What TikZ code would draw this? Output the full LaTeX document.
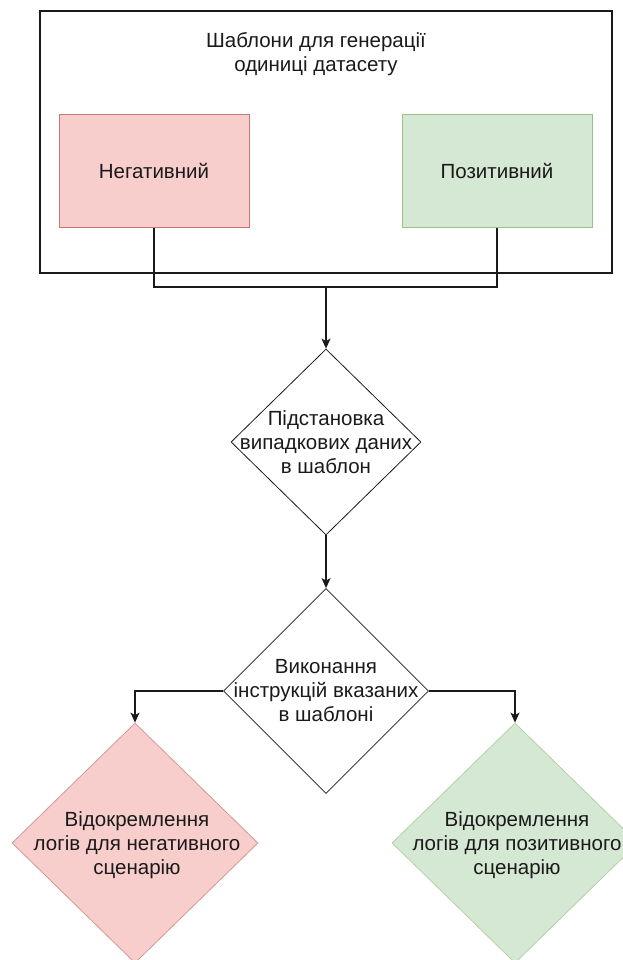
\documentclass[tikz,border=0pt]{standalone}
\usepackage{fontspec}
\setmainfont{Liberation Sans}
\usetikzlibrary{shapes.geometric,arrows.meta}
\definecolor{negfill}{HTML}{F8CECC}
\definecolor{negline}{HTML}{B85450}
\definecolor{posfill}{HTML}{D5E8D4}
\definecolor{posline}{HTML}{82B366}
\definecolor{ink}{HTML}{1A1A1A}
\begin{document}
\begin{tikzpicture}[x=1pt,y=-1pt,
  lbl/.style={font=\fontsize{20.5}{24}\selectfont, text=ink, align=center, inner sep=0},
  conn/.style={draw=ink, line width=1.3pt},
  arr/.style={conn, -{Stealth[length=10pt,width=9pt,inset=2.5pt]}},
  box/.style={rectangle, line width=0.8pt, minimum width=190pt, minimum height=113pt, inner sep=0},
  dia/.style={diamond, draw=ink, line width=0.8pt, inner sep=0}]
\clip (0,0) rectangle (623,960);
\fill[white] (0,0) rectangle (623,960);
\node[rectangle, draw=ink, line width=1.2pt, minimum width=572pt, minimum height=262pt, inner sep=0] (outer) at (326,142) {};
\node[lbl] (title) at (316,54) {Шаблони для генерації\\одиниці датасету};
\node[box, fill=negfill, draw=negline!80] (neg) at (154,171) {};
\node[lbl] (negt) at (neg.center) {Негативний};
\node[box, fill=posfill, draw=posline!80] (pos) at (497,171) {};
\node[lbl] (post) at (pos.center) {Позитивний};
\coordinate (j) at (326,287);
\draw[conn] (neg.south) |- (j) -| (pos.south);
\node[dia, fill=white, minimum width=190pt, minimum height=186pt] (d1) at (326,442) {};
\node[lbl] (d1t) at (d1.center) {Підстановка\\випадкових даних\\в шаблон};
\draw[arr] (j) -- (d1.north);
\node[dia, fill=white, minimum width=205pt, minimum height=205pt] (d2) at (326,691) {};
\node[lbl] (d2t) at (d2.center) {Виконання\\інструкцій вказаних\\в шаблоні};
\draw[arr] (d1.south) -- (d2.north);
\node[dia, fill=negfill, draw=negline!60, minimum width=246pt, minimum height=240pt] (d3) at (135,843) {};
\node[lbl] (d3t) at (137,845) {Відокремлення\\логів для негативного\\сценарію};
\node[dia, fill=posfill, draw=posline!60, minimum width=246pt, minimum height=240pt] (d4) at (515,843) {};
\node[lbl] (d4t) at (517,845) {Відокремлення\\логів для позитивного\\сценарію};
\draw[arr] (d2.west) -| (d3.north);
\draw[arr] (d2.east) -| (d4.north);
\end{tikzpicture}
\end{document}
